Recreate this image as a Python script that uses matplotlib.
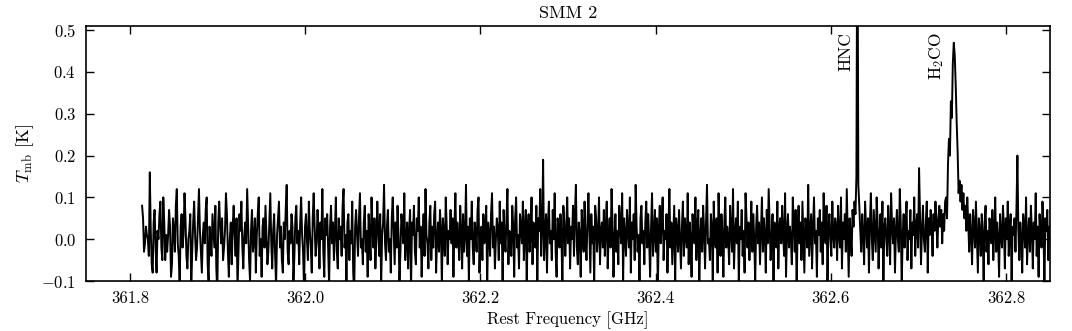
import numpy as np
import matplotlib
matplotlib.use("Agg")
import matplotlib.pyplot as plt

plt.rcParams['font.family'] = 'serif'
plt.rcParams['font.serif'] = ['cmr10']
plt.rcParams['mathtext.fontset'] = 'cm'
plt.rcParams['axes.formatter.use_mathtext'] = True

# Spectrum (main-beam temperature, K), channels 0..959
tmb_1 = [
    0.08, 0.05, -0.03, -0.01, 0.03, 0.01, 0.00, -0.04, 0.16, 0.02, -0.06, -0.08, 0.04, 0.07, -0.02, -0.08, 0.02, 0.00, 0.06, 0.09,
    -0.02, -0.05, 0.10, 0.04, -0.05, 0.01, -0.03, 0.01, 0.07, 0.03, -0.09, -0.06, 0.05, 0.02, -0.03, 0.08, 0.12, -0.01, -0.04, -0.11,
    0.03, 0.06, -0.02, 0.01, 0.11, 0.05, -0.04, -0.07, 0.00, 0.02, 0.06, -0.12, -0.03, 0.04, 0.09, 0.01, -0.05, -0.02, 0.05, 0.12,
    0.02, -0.03, -0.08, 0.01, 0.04, -0.01, 0.07, 0.10, -0.06, -0.10, 0.03, 0.00, -0.04, 0.06, 0.02, -0.02, 0.08, -0.07, -0.13, 0.04,
    0.09, 0.03, -0.01, 0.05, -0.05, -0.02, 0.02, 0.11, 0.06, -0.03, -0.09, 0.00, 0.04, -0.06, 0.03, 0.08, 0.01, -0.04, 0.05, -0.12,
    -0.03, 0.06, 0.02, 0.09, -0.02, -0.07, 0.01, 0.04, -0.01, 0.12, 0.03, -0.05, -0.10, 0.02, 0.07, -0.03, 0.00, 0.05, -0.08, 0.01,
]
tmb_2 = [
    0.06, 0.10, -0.04, 0.00, -0.09, 0.03, 0.05, -0.02, 0.08, 0.01, -0.06, -0.03, 0.04, 0.11, -0.01, -0.07, 0.02, 0.06, -0.04, -0.11,
    0.01, 0.05, 0.09, -0.02, 0.03, -0.05, -0.08, 0.04, 0.00, 0.07, 0.13, -0.03, -0.06, 0.02, -0.01, 0.06, 0.03, -0.10, -0.04, 0.05,
    0.08, -0.01, 0.02, -0.06, 0.04, 0.10, 0.01, -0.03, -0.12, 0.03, 0.06, 0.00, -0.05, 0.09, 0.02, -0.02, -0.08, 0.05, 0.11, 0.03,
    -0.04, -0.01, 0.07, 0.02, -0.07, 0.04, 0.00, 0.12, -0.03, -0.09, 0.05, 0.01, 0.06, -0.02, -0.11, 0.03, 0.08, -0.01, 0.04, -0.05,
    0.02, 0.10, -0.03, -0.07, 0.05, 0.00, 0.03, -0.04, 0.08, 0.12, -0.02, 0.01, -0.10, 0.04, 0.06, -0.05, 0.02, -0.01, 0.09, -0.08,
    -0.13, 0.03, 0.07, 0.01, -0.04, 0.05, 0.11, -0.02, 0.00, -0.06, 0.04, 0.08, -0.03, 0.02, -0.09, 0.06, 0.01, -0.05, 0.10, 0.03,
]
tmb_3 = [
    -0.02, 0.05, -0.07, 0.00, 0.09, 0.02, -0.04, 0.06, -0.11, 0.01, 0.04, 0.13, -0.01, -0.05, 0.03, 0.07, -0.03, 0.00, -0.08, 0.05,
    0.10, 0.02, -0.06, 0.04, -0.02, 0.08, 0.01, -0.10, -0.03, 0.06, 0.03, -0.01, 0.11, -0.05, 0.00, 0.04, -0.07, 0.02, 0.07, -0.12,
    0.04, 0.01, 0.08, -0.03, -0.06, 0.05, 0.02, 0.10, -0.02, 0.03, -0.09, 0.00, 0.06, -0.04, 0.12, 0.01, -0.01, -0.07, 0.04, 0.08,
    -0.05, 0.03, -0.02, 0.06, 0.09, -0.08, 0.00, 0.04, -0.03, 0.07, 0.02, -0.11, 0.05, 0.01, -0.04, 0.10, 0.03, -0.06, 0.02, 0.00,
    0.07, -0.01, 0.05, -0.09, 0.03, 0.11, -0.02, 0.04, 0.00, -0.05, 0.08, 0.02, -0.07, 0.06, -0.03, 0.01, 0.13, -0.04, 0.03, -0.10,
    0.05, 0.00, 0.09, -0.02, -0.06, 0.04, 0.02, -0.03, 0.07, 0.10, -0.08, 0.01, 0.03, -0.05, 0.06, -0.01, 0.02, 0.08, -0.12, 0.04,
]
tmb_4 = [
    0.01, -0.04, 0.06, 0.11, -0.02, 0.03, -0.07, 0.00, 0.05, 0.02, -0.05, 0.09, -0.01, 0.04, -0.10, 0.07, 0.01, -0.03, 0.05, 0.12,
    -0.06, 0.02, 0.00, -0.04, 0.08, 0.03, -0.09, 0.05, 0.10, -0.02, 0.01, -0.07, 0.06, 0.03, -0.01, 0.09, -0.05, 0.02, 0.07, -0.11,
    0.03, 0.06, -0.03, 0.01, 0.10, -0.06, 0.04, 0.00, -0.02, 0.08, -0.10, 0.05, 0.02, 0.12, -0.04, 0.03, 0.19, -0.05, 0.01, 0.06,
    -0.08, 0.04, 0.09, -0.01, 0.02, -0.05, 0.07, 0.00, 0.11, -0.03, -0.09, 0.05, 0.03, -0.02, 0.06, 0.01, -0.12, 0.08, 0.04, -0.04,
    0.02, 0.10, -0.01, 0.05, -0.07, 0.03, 0.00, 0.08, -0.04, 0.06, 0.13, -0.02, -0.06, 0.04, 0.01, -0.09, 0.07, 0.03, -0.03, 0.09,
    0.00, -0.05, 0.04, 0.11, 0.02, -0.08, 0.06, -0.01, 0.03, -0.11, 0.08, 0.05, -0.03, 0.01, 0.10, -0.06, 0.02, 0.04, -0.02, 0.07,
]
tmb_5 = [
    -0.04, 0.03, 0.09, -0.07, 0.01, 0.05, -0.02, 0.12, 0.04, -0.09, 0.00, 0.06, -0.03, 0.02, -0.06, 0.08, 0.03, -0.01, 0.11, -0.10,
    0.05, 0.01, -0.04, 0.07, 0.02, -0.02, 0.10, -0.08, 0.04, 0.00, 0.06, -0.05, 0.13, 0.03, -0.03, 0.01, -0.11, 0.05, 0.08, -0.01,
    0.02, -0.06, 0.04, 0.09, -0.02, 0.06, 0.00, -0.09, 0.03, 0.11, -0.04, 0.01, 0.07, -0.03, 0.05, -0.12, 0.02, 0.08, -0.01, 0.04,
    0.10, -0.05, 0.02, 0.00, 0.06, -0.08, 0.03, 0.12, -0.02, 0.04, -0.06, 0.01, 0.08, -0.10, 0.05, 0.02, -0.03, 0.07, 0.00, -0.07,
    0.03, 0.09, -0.04, 0.05, 0.01, -0.02, 0.11, -0.06, 0.04, 0.00, -0.09, 0.06, 0.02, -0.01, 0.10, -0.05, 0.03, 0.07, -0.12, 0.01,
    0.05, -0.03, 0.08, 0.02, -0.07, 0.04, 0.13, -0.01, 0.00, -0.05, 0.06, 0.03, -0.10, 0.09, 0.01, -0.02, 0.05, -0.08, 0.11, 0.02,
]
tmb_6 = [
    -0.04, 0.06, 0.01, -0.09, 0.04, 0.10, -0.02, 0.03, 0.00, -0.06, 0.08, 0.02, -0.03, 0.12, -0.07, 0.01, 0.05, -0.01, 0.09, -0.11,
    0.03, 0.00, 0.07, -0.04, 0.02, -0.08, 0.11, 0.05, -0.02, 0.04, -0.05, 0.01, 0.09, -0.03, 0.06, 0.00, -0.10, 0.03, 0.08, -0.01,
    0.04, -0.06, 0.02, 0.10, -0.03, 0.05, 0.01, -0.08, 0.07, -0.01, 0.12, 0.03, -0.05, 0.00, 0.06, -0.11, 0.04, 0.02, -0.02, 0.09,
    -0.07, 0.03, 0.05, -0.01, 0.08, 0.01, -0.04, 0.11, -0.09, 0.02, 0.06, -0.02, 0.03, 0.00, -0.06, 0.10, 0.04, -0.03, 0.07, -0.12,
    0.02, 0.08, -0.01, 0.04, -0.05, 0.09, 0.00, -0.08, 0.05, 0.03, -0.02, 0.13, -0.04, 0.01, 0.06, -0.07, 0.03, 0.10, -0.01, 0.02,
    -0.09, 0.05, 0.01, 0.07, -0.03, 0.04, -0.06, 0.11, 0.02, -0.01, 0.08, -0.10, 0.03, 0.06, 0.00, -0.04, 0.09, 0.01, -0.02, 0.05,
]
tmb_7 = [
    0.03, -0.05, 0.08, 0.01, -0.02, 0.10, -0.07, 0.04, 0.00, 0.06, -0.03, 0.12, 0.02, -0.09, 0.05, 0.01, -0.04, 0.07, 0.03, 0.09,
    0.06, 0.15, 0.88, 0.13, 0.08, 0.02, -0.03, 0.06, 0.01, -0.06, 0.09, 0.03, -0.02, 0.05, -0.08, 0.04, 0.11, 0.00, -0.05, 0.07,
    0.02, -0.03, 0.10, 0.04, -0.07, 0.01, 0.06, -0.02, 0.09, -0.10, 0.03, 0.05, 0.00, -0.04, 0.08, 0.02, -0.06, 0.11, 0.03, -0.01,
    0.05, -0.08, 0.02, 0.07, 0.00, -0.03, 0.12, 0.04, -0.11, 0.01, 0.06, -0.02, 0.03, 0.09, -0.05, 0.02, 0.00, 0.07, -0.07, 0.04,
    0.01, 0.10, -0.04, 0.03, 0.06, -0.02, 0.17, 0.05, -0.06, 0.02, 0.08, 0.00, -0.03, 0.04, 0.09, -0.08, 0.05, 0.01, 0.07, 0.03,
    -0.04, 0.06, 0.02, 0.09, 0.04, -0.02, 0.05, 0.08, 0.03, 0.07, -0.01, 0.06, 0.02, 0.09, 0.10, 0.05, 0.18, 0.24, 0.20, 0.33,
]
tmb_8 = [
    0.29, 0.42, 0.47, 0.44, 0.37, 0.28, 0.21, 0.11, 0.14, 0.09, 0.13, 0.07, 0.11, 0.05, 0.08, 0.02, 0.10, 0.04, -0.03, 0.06,
    0.01, -0.06, 0.07, 0.03, -0.02, 0.09, 0.00, -0.08, 0.05, 0.02, -0.04, 0.06, 0.01, -0.10, 0.04, 0.08, -0.03, 0.02, -0.06, 0.05,
    0.03, -0.01, 0.07, -0.05, 0.02, 0.10, -0.03, 0.04, 0.00, -0.09, 0.06, 0.01, -0.02, 0.08, 0.03, -0.07, 0.05, 0.00, 0.09, -0.04,
    0.02, 0.06, -0.11, 0.03, 0.01, 0.05, -0.03, 0.07, 0.20, 0.02, -0.05, 0.04, 0.00, -0.08, 0.06, 0.03, -0.02, 0.10, -0.06, 0.01,
    0.05, -0.03, 0.08, 0.02, -0.07, 0.04, 0.00, 0.11, -0.04, 0.03, -0.09, 0.06, 0.01, -0.02, 0.09, 0.04, -0.12, 0.05, 0.02, 0.07,
    -0.05, 0.03, 0.00, 0.10, -0.03, 0.06, 0.12, -0.08, 0.02, 0.04, -0.02, 0.08, -0.06, 0.01, 0.05, 0.09, -0.01, 0.03, -0.04, 0.06,
]
tmb = np.array(tmb_1 + tmb_2 + tmb_3 + tmb_4 + tmb_5 + tmb_6 + tmb_7 + tmb_8)

freq_start = 361.814   # GHz, first channel
freq_step = 0.0011     # GHz per channel
freq = freq_start + freq_step * np.arange(len(tmb))

line_names = ['HNC', r'H$_2$CO']
line_label_freq = [362.617, 362.721]

xticks = [361.8, 362.0, 362.2, 362.4, 362.6, 362.8]
yticks = [-0.1, 0.0, 0.1, 0.2, 0.3, 0.4, 0.5]

fig = plt.figure(figsize=(10.72, 3.31), dpi=100)
ax = fig.add_axes([86/1072, 50/331, 964/1072, 255/331])
ax.plot(freq, tmb, color='black', lw=1.4)
ax.set_xlim(361.75, 362.85)
ax.set_ylim(-0.1, 0.51)
ax.set_xticks(xticks)
ax.set_yticks(yticks)
ax.set_xticklabels([f'{t:.1f}' for t in xticks])
ax.set_yticklabels([f'${t:.1f}$' for t in yticks])
ax.tick_params(direction='in', top=True, right=True, length=6, width=1,
               labelsize=12, pad=7)
for s in ax.spines.values():
    s.set_linewidth(1.2)
for name, f in zip(line_names, line_label_freq):
    ax.text(f, 0.495, name, rotation=90, ha='center', va='top', fontsize=12.5)
ax.set_title('SMM 2', fontsize=13, pad=6)
ax.set_xlabel('Rest Frequency [GHz]', fontsize=12)
ax.set_ylabel(r'$T_{\rm mb}$ [K]', fontsize=13)
fig.savefig('out.png', dpi=100)
